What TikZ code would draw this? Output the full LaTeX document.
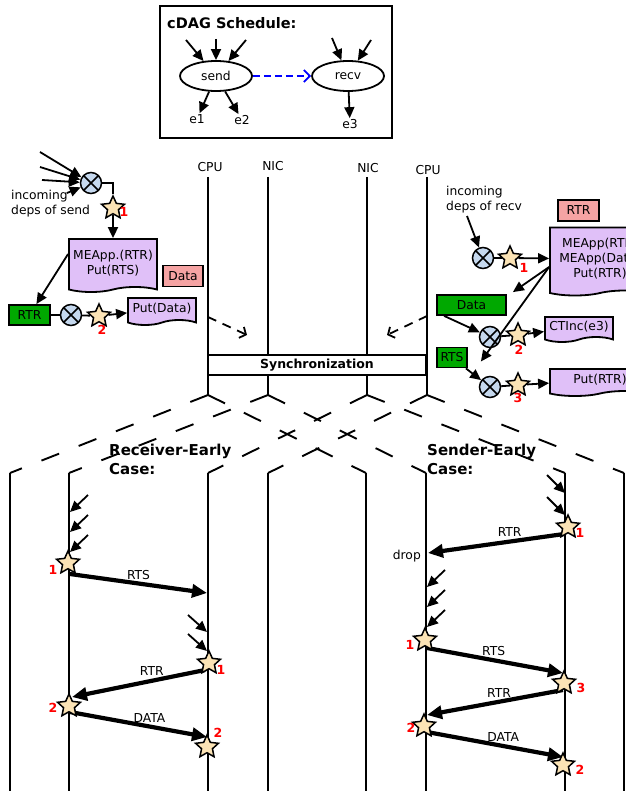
\documentclass[tikz,border=0pt]{standalone}
\usepackage{fontspec}
\setmainfont{DejaVu Sans}
\usetikzlibrary{arrows.meta,shapes.geometric,shapes.symbols}

\definecolor{docpurple}{HTML}{E0C0F8}
\definecolor{msgpink}{HTML}{F5A3A3}
\definecolor{msggreen}{HTML}{00A800}
\definecolor{starfill}{HTML}{FBE3B5}
\definecolor{joinblue}{HTML}{C5D8EE}

\tikzset{
  deparr/.style = {line width=1.8pt, -{Triangle[length=11pt, width=10pt]}},
  msgarr/.style = {line width=4.2pt, -{Triangle[length=15pt, width=13pt]}},
  hintarr/.style = {line width=1.8pt, dash pattern=on 9pt off 7pt, -{Straight Barb[length=5pt, width=12pt]}},
  lifeline/.style = {line width=1.9pt},
  forkline/.style = {line width=1.9pt, dash pattern=on 19pt off 21pt},
  docnode/.style = {tape, tape bend top=none, draw, line width=1.8pt, fill=docpurple, align=center},
  joinnode/.style = {circle, draw, line width=1.5pt, fill=joinblue, minimum size=21pt, inner sep=0pt,
    path picture = {\draw[line width=1.5pt] (path picture bounding box.north west) -- (path picture bounding box.south east)
      (path picture bounding box.north east) -- (path picture bounding box.south west);}},
  firestar/.style = {star, star points=5, star point ratio=2.1, draw, line width=1.5pt, fill=starfill, minimum size=24pt, inner sep=0pt},
  firenum/.style = {text=red, font=\fontsize{12.5}{15}\selectfont\bfseries},
  pinkbox/.style = {draw, line width=1.8pt, fill=msgpink, minimum height=21pt},
  greenbox/.style = {draw, line width=1.8pt, fill=msggreen, minimum height=20pt},
  headline/.style = {font=\fontsize{15}{19}\selectfont\bfseries, align=left, anchor=west}
}

\begin{document}
\begin{tikzpicture}[x=1pt, y=-1pt, font=\fontsize{12.3}{15}\selectfont, every node/.append style={inner sep=1pt}]
\useasboundingbox (0,0) rectangle (625,791);

\draw[line width=1.8pt] (160,6) rectangle (392,138);
\node[anchor=west, font=\fontsize{14.5}{17}\selectfont\bfseries] (dagtitle) at (166,23) {cDAG Schedule:};
\begin{scope}[every node/.style = {ellipse, draw, line width=1.8pt, minimum width=72pt, minimum height=30pt}]
\node (send) at (216,76) {send};
\node (recv) at (348,76) {recv};
\end{scope}
\node (e1) at (197,119) {e1};
\node (e2) at (242,120) {e2};
\node (e3) at (350,124) {e3};
\foreach \px/\py [count=\i] in {186/40, 216/39, 246/40} {
  \coordinate (sendin\i) at (\px,\py);
  \draw[deparr] (sendin\i) -- (send);
}
\foreach \px/\py [count=\i] in {332/38, 371/40} {
  \coordinate (recvin\i) at (\px,\py);
  \draw[deparr] (recvin\i) -- (recv);
}
\begin{scope}[every edge/.style = {draw, deparr}]
\path (send) edge (e1);
\path (send) edge (e2);
\path (recv) edge (e3);
\end{scope}
\draw[blue, line width=1.8pt, dash pattern=on 7pt off 4pt, -{Straight Barb[length=6pt, width=12pt]}] (send) -- (recv);

\node (cpuA) at (210,167) {CPU};
\node (nicA) at (273,166) {NIC};
\node (nicB) at (368,168) {NIC};
\node (cpuB) at (428,170) {CPU};
\foreach \lx [count=\i] in {208,268,367,427} {
  \coordinate (top\i) at (\lx,177);
  \coordinate (fork\i) at (\lx,395);
  \draw[lifeline] (top\i) -- (fork\i);
}
\node[draw, fill=white, line width=1.8pt, minimum width=218pt, minimum height=20pt, font=\fontsize{12.5}{15}\selectfont\bfseries] (sync) at (317,365) {Synchronization};
\coordinate (hintA0) at (208,317);
\coordinate (hintA1) at (247,335);
\coordinate (hintB0) at (427,316);
\coordinate (hintB1) at (387,335);
\draw[hintarr] (hintA0) -- (hintA1);
\draw[hintarr] (hintB0) -- (hintB1);

\foreach \lx [count=\i] in {10,69,208,268} {
  \coordinate (rl\i) at (\lx,473);
  \coordinate (rb\i) at (\lx,791);
  \draw[lifeline] (rl\i) -- (rb\i);
}
\foreach \lx [count=\i] in {366,426,565,624} {
  \coordinate (sl\i) at (\lx,473);
  \coordinate (sb\i) at (\lx,791);
  \draw[lifeline] (sl\i) -- (sb\i);
}
\foreach \i in {1,...,4} {
  \draw[forkline] (fork\i) -- (rl\i);
  \draw[forkline] (fork\i) -- (sl\i);
}
\node[headline] (rcase) at (108,459) {Receiver-Early\\Case:};
\node[headline] (scase) at (426,459) {Sender-Early\\Case:};

\node[anchor=west, align=left] (depsS) at (10,204) {incoming\\deps of send};
\node[joinnode] (joinS1) at (91,183) {};
\foreach \px/\py [count=\i] in {40/152, 40/167, 42/180, 67/193} {
  \coordinate (depS\i) at (\px,\py);
  \draw[deparr] (depS\i) -- (joinS1);
}
\node[firestar] (fireS1) at (113,208) {};
\node[firenum] (numS1) at (124,212) {1};
\node[docnode, minimum width=88pt, minimum height=53pt] (docS1) at (113,263) {MEApp.(RTR)\\Put(RTS)};
\node[pinkbox, minimum width=40pt] (dataS) at (183,276) {Data};
\node[greenbox, minimum width=41pt] (rtrS) at (29.5,315) {RTR};
\node[joinnode] (joinS2) at (71,315) {};
\node[firestar] (fireS2) at (99,316) {};
\node[firenum] (numS2) at (102,330) {2};
\node[docnode, minimum width=68pt, minimum height=27pt] (docS2) at (162,309) {Put(Data)};
\draw[line width=1.8pt] (joinS1.east) -| (fireS1);
\draw[deparr] (fireS1) -- (docS1);
\draw[deparr] ([yshift=9pt]docS1.west) -- (rtrS);
\draw[line width=1.8pt] (rtrS) -- (joinS2) -- (fireS2);
\draw[deparr] (fireS2) -- (docS2);

\node[anchor=west, align=left] (depsR) at (445,200) {incoming\\deps of recv};
\coordinate (depR1) at (467,216);
\node[joinnode] (joinR1) at (483,258) {};
\node[firestar] (fireR1) at (510,258) {};
\node[firenum] (numR1) at (524,268) {1};
\node[pinkbox, minimum width=41pt] (rtrR) at (578.5,210.5) {RTR};
\node[docnode, minimum width=100pt, minimum height=68pt] (docR1) at (600,259) {MEApp(RTR)\\MEApp(Data)\\Put(RTR)};
\node[greenbox, minimum width=69pt] (dataR) at (471.5,305) {Data};
\node[greenbox, minimum width=30pt] (rtsR) at (452,357.5) {RTS};
\node[joinnode] (joinR2) at (490,337) {};
\node[firestar] (fireR2) at (518,335) {};
\node[firenum] (numR2) at (519,350) {2};
\node[docnode, minimum width=68pt, minimum height=25pt] (docR2) at (579,327) {CTInc(e3)};
\node[joinnode] (joinR3) at (490,387) {};
\node[firestar] (fireR3) at (518,385) {};
\node[firenum] (numR3) at (518,398) {3};
\node[docnode, minimum width=100pt, minimum height=27pt] (docR3) at (600,380) {Put(RTR)};
\draw[deparr] (depR1) -- (joinR1);
\draw[line width=1.8pt] (joinR1) -- (fireR1);
\draw[deparr] (fireR1) -- (docR1);
\draw[deparr] ([yshift=-8pt]docR1.west) -- ([shift={(6pt,2pt)}]dataR.north east);
\draw[deparr] ([yshift=-8pt]docR1.west) -- ([shift={(13pt,-4pt)}]rtsR.east);
\draw[deparr] ([xshift=8pt]dataR.south west) -- (joinR2);
\draw[line width=1.8pt] (joinR2) -- (fireR2);
\draw[deparr] (fireR2) -- (docR2);
\draw[deparr] ([xshift=-2pt]rtsR.south east) -- (joinR3);
\draw[line width=1.8pt] (joinR3) -- (fireR3);
\draw[deparr] (fireR3) -- (docR3);

\foreach \py [count=\i] in {495,515,535} {
  \coordinate (rina\i) at (88,\py);
  \coordinate (rata\i) at (70,\py+17);
  \draw[deparr] (rina\i) -- (rata\i);
}
\foreach \py [count=\i] in {615,634} {
  \coordinate (rinb\i) at (188,\py);
  \coordinate (ratb\i) at (207,\py+17);
  \draw[deparr] (rinb\i) -- (ratb\i);
}
\coordinate (rm1a) at (70,574);
\coordinate (rm1b) at (207,593);
\coordinate (rm2a) at (205,670);
\coordinate (rm2b) at (72,697);
\coordinate (rm3a) at (70,712);
\coordinate (rm3b) at (207,737);
\draw[msgarr] (rm1a) -- node[pos=0.5, above=1pt] (rmsg1) {RTS} (rm1b);
\draw[msgarr] (rm2a) -- node[pos=0.4, above=2pt] (rmsg2) {RTR} (rm2b);
\draw[msgarr] (rm3a) -- node[pos=0.58, above=1pt] (rmsg3) {DATA} (rm3b);
\node[firestar] (fireA1) at (68,563) {};
\node[firenum] (numA1) at (53,570) {1};
\node[firestar] (fireA2) at (209,663) {};
\node[firenum] (numA2) at (221,670) {1};
\node[firestar] (fireA3) at (69,706) {};
\node[firenum] (numA3) at (53,708) {2};
\node[firestar] (fireA4) at (207,747) {};
\node[firenum] (numA4) at (218,733) {2};

\foreach \py [count=\i] in {475,497} {
  \coordinate (sina\i) at (547,\py);
  \coordinate (sata\i) at (565,\py+18);
  \draw[deparr] (sina\i) -- (sata\i);
}
\foreach \py [count=\i] in {570,590,610} {
  \coordinate (sinb\i) at (445,\py);
  \coordinate (satb\i) at (427,\py+17);
  \draw[deparr] (sinb\i) -- (satb\i);
}
\coordinate (sm1a) at (564,534);
\coordinate (sm1b) at (428,553);
\coordinate (sm2a) at (427,648);
\coordinate (sm2b) at (563,673);
\coordinate (sm3a) at (563,690);
\coordinate (sm3b) at (427,715);
\coordinate (sm4a) at (427,732);
\coordinate (sm4b) at (563,757);
\draw[msgarr] (sm1a) -- node[pos=0.4, above=2pt] (smsg1) {RTR} (sm1b);
\draw[msgarr] (sm2a) -- node[pos=0.49, above=1pt] (smsg2) {RTS} (sm2b);
\draw[msgarr] (sm3a) -- node[pos=0.47, above=1pt] (smsg3) {RTR} (sm3b);
\draw[msgarr] (sm4a) -- node[pos=0.56, above=1pt] (smsg4) {DATA} (sm4b);
\node[anchor=east] (dropnote) at (422,556) {drop};
\node[firestar] (fireB1) at (568,527) {};
\node[firenum] (numB1) at (580,533) {1};
\node[firestar] (fireB2) at (425,640) {};
\node[firenum] (numB2) at (410,645) {1};
\node[firestar] (fireB3) at (564,683) {};
\node[firenum] (numB3) at (581,688) {3};
\node[firestar] (fireB4) at (424,726) {};
\node[firenum] (numB4) at (411,728) {2};
\node[firestar] (fireB5) at (563,765) {};
\node[firenum] (numB5) at (580,770) {2};
\end{tikzpicture}
\end{document}
